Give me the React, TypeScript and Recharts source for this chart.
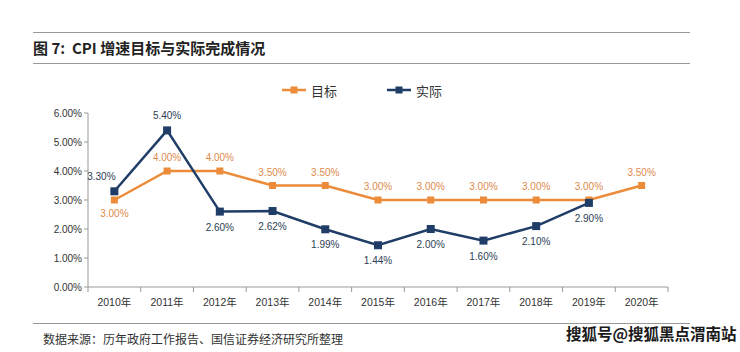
import { LineChart, Line, XAxis, YAxis } from 'recharts';

const years = ['2010年', '2011年', '2012年', '2013年', '2014年', '2015年', '2016年', '2017年', '2018年', '2019年', '2020年'];
const target = [3.0, 4.0, 4.0, 3.5, 3.5, 3.0, 3.0, 3.0, 3.0, 3.0, 3.5];
const actual: (number | null)[] = [3.3, 5.4, 2.6, 2.62, 1.99, 1.44, 2.0, 1.6, 2.1, 2.9, null];
const yTicks = [0, 1, 2, 3, 4, 5, 6];

const ORANGE = '#EC8C3A';
const NAVY = '#1F3D66';
const FONT = '"Liberation Sans", Arial, "Noto Sans CJK SC", sans-serif';

const data = years.map((y, i) => ({ year: y, target: target[i], actual: actual[i] }));

const HALF_BAND = 580 / 11 / 2;

const XTick = (props: any) => {
  const { x, y, payload, index } = props;
  const last = index === years.length - 1;
  return (
    <g>
      <line x1={x - HALF_BAND} y1={y - 8} x2={x - HALF_BAND} y2={y - 3} stroke="#999" />
      {last && <line x1={x + HALF_BAND} y1={y - 8} x2={x + HALF_BAND} y2={y - 3} stroke="#999" />}
      <text x={x} y={y + 11} textAnchor="middle" fontSize={10.5} fill="#333" fontFamily={FONT}>
        {payload.value}
      </text>
    </g>
  );
};

const targetLabel = (props: any) => {
  const { x, y, value, index } = props;
  if (value == null) return null;
  const dy = index === 0 ? 17 : -10;
  return (
    <text key={'t' + index} x={x} y={y + dy} textAnchor="middle" fontSize={10} fill="#DD8A4C" fontFamily={FONT}>
      {value.toFixed(2) + '%'}
    </text>
  );
};

const actualLabel = (props: any) => {
  const { x, y, value, index } = props;
  if (value == null) return null;
  let dx = 0;
  let dy = 19;
  if (index === 0) { dx = -13; dy = -11; }
  if (index === 1) { dy = -11; }
  return (
    <text key={'a' + index} x={x + dx} y={y + dy} textAnchor="middle" fontSize={10} fill="#2E3E55" fontFamily={FONT}>
      {value.toFixed(2) + '%'}
    </text>
  );
};

const LegendItem = ({ color, label, left }: { color: string; label: string; left: number }) => (
  <div style={{ position: 'absolute', left, top: 82, display: 'flex', alignItems: 'center', height: 16 }}>
    <svg width={24} height={16}>
      <line x1={0} y1={8} x2={24} y2={8} stroke={color} strokeWidth={2.5} />
      <rect x={8.5} y={4.5} width={7} height={7} fill={color} />
    </svg>
    <span style={{ marginLeft: 5, fontSize: 13, color: '#333', fontFamily: '"Noto Sans CJK SC", sans-serif' }}>{label}</span>
  </div>
);

export default function App() {
  return (
    <div style={{ position: 'absolute', left: 0, top: 0, width: 740, height: 352, background: '#fff', overflow: 'hidden' }}>
      <div style={{ position: 'absolute', left: 33, top: 32, width: 657, borderTop: '1.5px solid #999' }} />
      <div style={{ position: 'absolute', left: 33, top: 37, fontSize: 15, fontWeight: 700, color: '#222', fontFamily: '"Noto Sans CJK SC", sans-serif', lineHeight: '22px', whiteSpace: 'pre' }}>
        {'图 7:  CPI 增速目标与实际完成情况'}
      </div>
      <div style={{ position: 'absolute', left: 33, top: 63, width: 657, borderTop: '1.5px solid #999' }} />
      <LegendItem color={ORANGE} label="目标" left={282} />
      <LegendItem color={NAVY} label="实际" left={387} />
      <div style={{ position: 'absolute', left: 0, top: 0 }}>
        <LineChart width={740} height={352} data={data} margin={{ top: 113, right: 72, left: 0, bottom: 35 }}>
          <XAxis
            dataKey="year"
            height={30}
            padding={{ left: HALF_BAND, right: HALF_BAND }}
            axisLine={{ stroke: '#999' }}
            tickLine={false}
            tick={<XTick />}
            interval={0}
          />
          <YAxis
            width={88}
            domain={[0, 6]}
            ticks={yTicks}
            interval={0}
            tickFormatter={(v: number) => v.toFixed(2) + '%'}
            axisLine={{ stroke: '#999' }}
            tickLine={{ stroke: '#999' }}
            tickSize={4}
            tickMargin={2}
            tick={{ fontSize: 10, fill: '#333', fontFamily: FONT }}
          />
          <Line
            dataKey="target"
            stroke={ORANGE}
            strokeWidth={2.5}
            isAnimationActive={false}
            dot={(p: any) => p.value == null ? <g key={'td' + p.index} /> : <rect key={'td' + p.index} x={p.cx - 3.5} y={p.cy - 3.5} width={7} height={7} fill={ORANGE} />}
            label={targetLabel}
          />
          <Line
            dataKey="actual"
            stroke={NAVY}
            strokeWidth={2.5}
            isAnimationActive={false}
            connectNulls={false}
            dot={(p: any) => p.value == null ? <g key={'ad' + p.index} /> : <rect key={'ad' + p.index} x={p.cx - 4} y={p.cy - 4} width={8} height={8} fill={NAVY} />}
            label={actualLabel}
          />
        </LineChart>
      </div>
      <div style={{ position: 'absolute', left: 33, top: 323, width: 657, borderTop: '1.5px solid #999' }} />
      <div style={{ position: 'absolute', left: 43, top: 330, fontSize: 12, color: '#333', fontFamily: '"Noto Sans CJK SC", sans-serif', lineHeight: '18px' }}>
        数据来源：历年政府工作报告、国信证券经济研究所整理
      </div>
      <div style={{ position: 'absolute', left: 566, top: 322, fontSize: 15.5, fontWeight: 700, color: '#1a1a1a', fontFamily: '"Noto Sans CJK SC", sans-serif', lineHeight: '22px', whiteSpace: 'nowrap' }}>
        搜狐号@搜狐黑点渭南站
      </div>
    </div>
  );
}
